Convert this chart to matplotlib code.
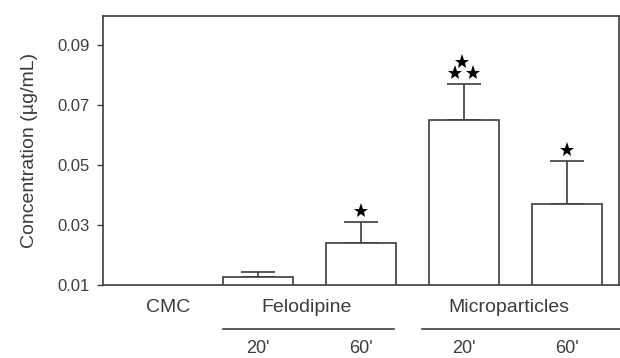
import matplotlib
matplotlib.use('Agg')

import numpy as np
from matplotlib import pyplot as plt
from matplotlib import transforms


# Datos
grupos = ['CMC', 'Felodipine', 'Microparticles']
tiempos = ["20'", "60'", "20'", "60'"]
medias = [0.0127, 0.0241, 0.0650, 0.0369]
errores = [0.0016, 0.0069, 0.0121, 0.0145]
estrellas = [0, 1, 3, 1]
ticks_y = [0.01, 0.03, 0.05, 0.07, 0.09]

gris = '#3c3c3c'
plt.rcParams['font.family'] = ['Liberation Sans', 'DejaVu Sans']
plt.rcParams['font.size'] = 12

fig = plt.figure(figsize=(6.2, 3.58), dpi=100)
ax = fig.add_axes([0.166, 0.204, 0.832, 0.752])

# Barras (posiciones 1..4, CMC sin barra en 0)
pos = np.arange(1, len(medias) + 1)
ax.bar(pos, medias, width=0.68, color='white', edgecolor=gris, linewidth=1.2, zorder=2)
ax.errorbar(pos, medias, yerr=[np.zeros(len(errores)), errores], fmt='none',
            ecolor=gris, elinewidth=1.2, capsize=12, capthick=1.2, zorder=1)

# Asteriscos de significancia (marcadores desplazados en puntos)
for x, m, e, n in zip(pos, medias, errores, estrellas):
    if n == 1:
        offs = [(0, 8)]
    elif n == 3:
        offs = [(-6.5, 8), (6.5, 8), (-1.5, 16)]
    else:
        offs = []
    for dx, dy in offs:
        tr = transforms.offset_copy(ax.transData, fig=fig, x=dx, y=dy, units='points')
        ax.plot(x, m + e, marker='*', markersize=11, color='black',
                markeredgewidth=0, transform=tr, clip_on=False)

ax.set_xlim(-0.505, 4.505)
ax.set_ylim(0.01, 0.0998)
ax.set_yticks(ticks_y)
ax.set_yticklabels(['%.2f' % t for t in ticks_y], color=gris)
ax.set_ylabel('Concentration (µg/mL)', color=gris, labelpad=14, fontsize=14)

# Etiquetas de grupo como ticks del eje x
ax.set_xticks([0.13, 1.47, 3.44])
ax.set_xticklabels(grupos, color=gris, fontsize=14)
ax.tick_params(axis='x', length=0, pad=10)
ax.tick_params(axis='y', length=4.5, width=1, color=gris, pad=5)

for s in ax.spines.values():
    s.set_color(gris)
    s.set_linewidth(1.2)

# Líneas bajo los grupos y etiquetas de tiempo
trans = transforms.blended_transform_factory(ax.transData, ax.transAxes)
ax.plot([0.66, 2.32], [-0.163, -0.163], color=gris, lw=1.2, transform=trans, clip_on=False)
ax.plot([2.59, 4.6], [-0.163, -0.163], color=gris, lw=1.2, transform=trans, clip_on=False)
for x, t in zip(pos, tiempos):
    ax.text(x, -0.235, t, transform=trans, ha='center', va='center', color=gris, fontsize=13)

fig.savefig('out.png', dpi=100)
